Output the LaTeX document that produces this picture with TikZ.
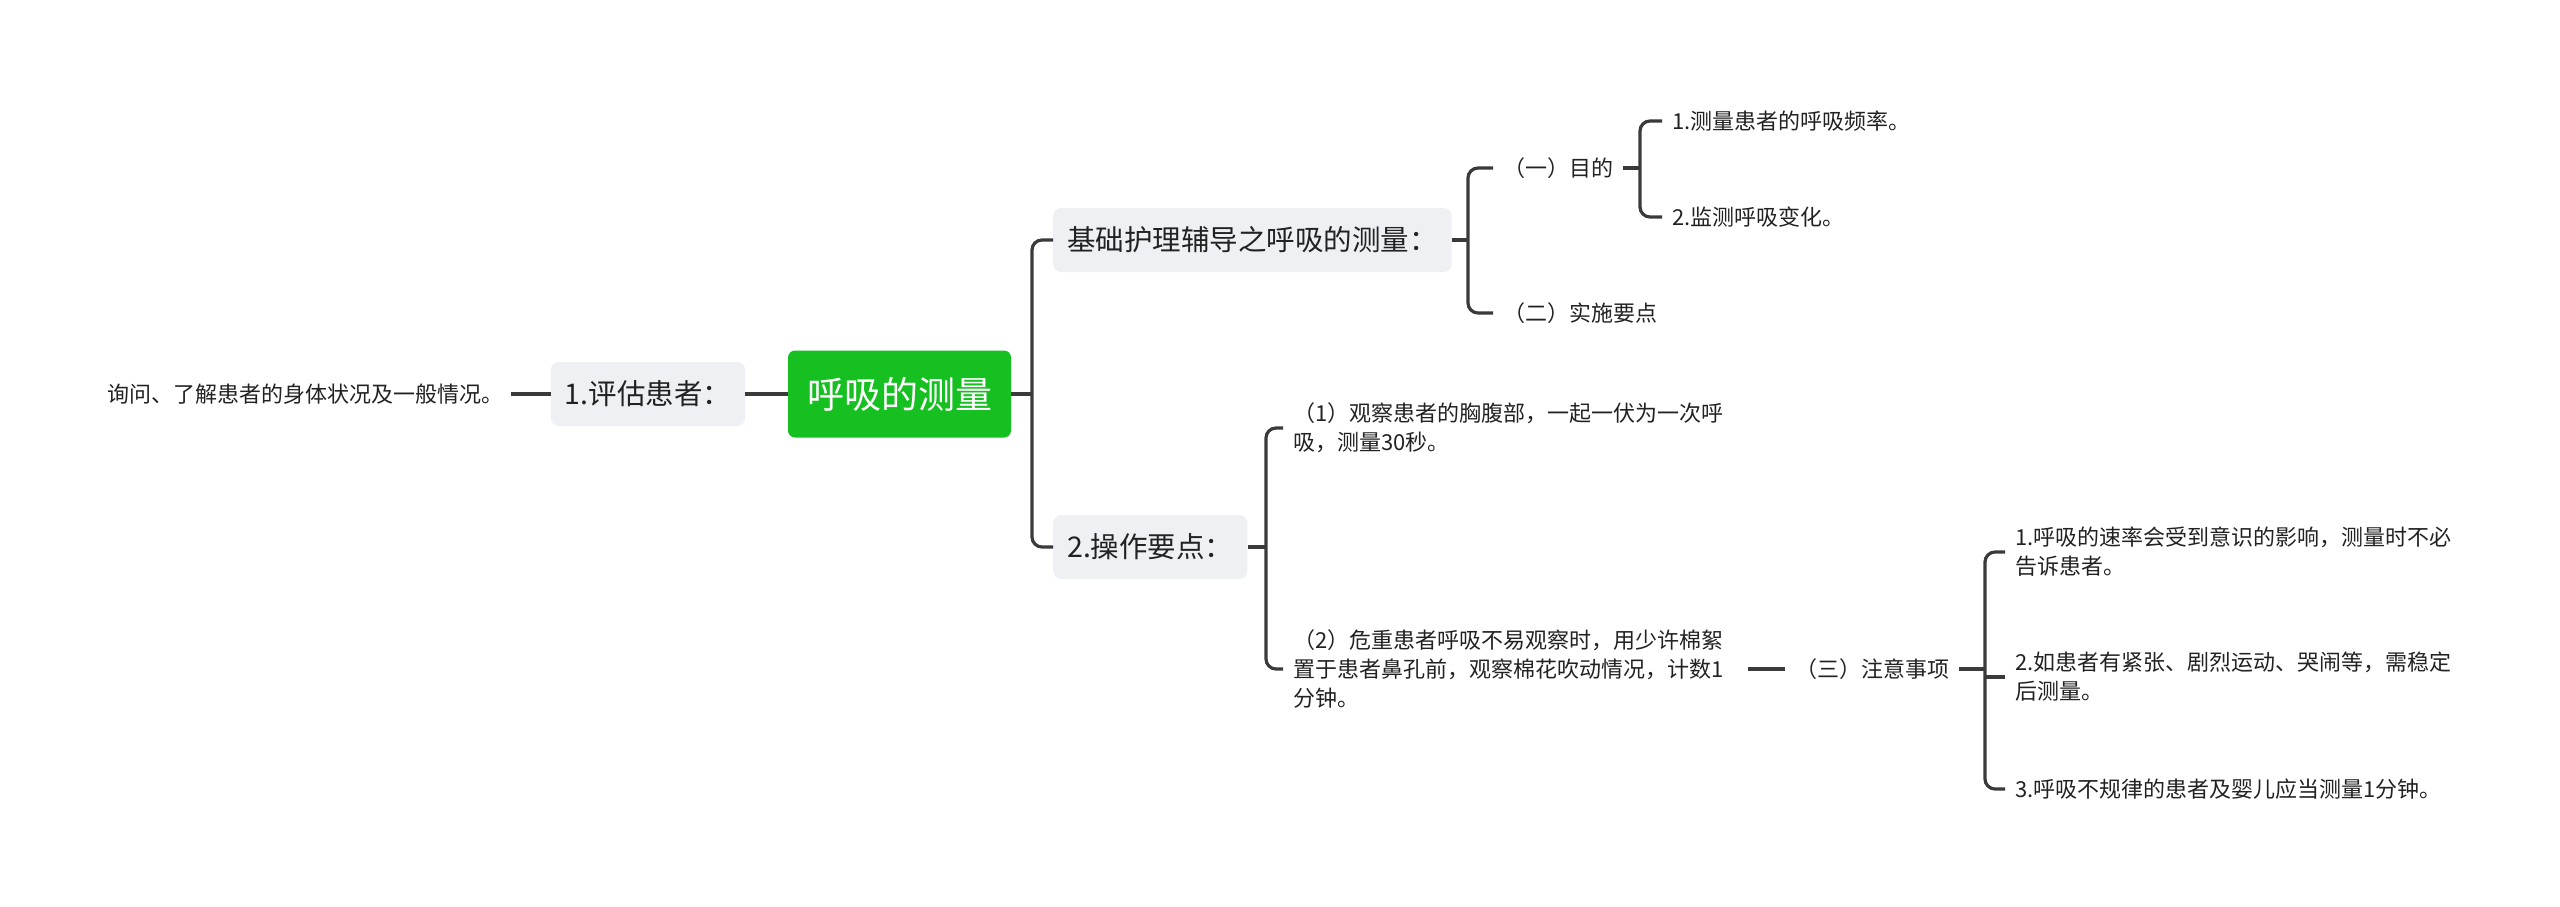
\documentclass[tikz,border=0pt]{standalone}
\usepackage{fontspec}
\setmainfont{Noto Sans CJK SC}
\definecolor{linec}{HTML}{3A3A3A}
\definecolor{txtc}{HTML}{222222}
\definecolor{boxc}{HTML}{EEF0F4}
\definecolor{rootc}{HTML}{15C020}
\begin{document}
\begin{tikzpicture}[x=1pt,y=-1pt,
  conn/.style={draw=linec, line width=3.2pt, rounded corners=10pt},
  leaf/.style={font=\fontsize{22}{29}\selectfont, text=txtc, align=left, inner xsep=10pt, inner ysep=0pt, anchor=west},
  topic/.style={fill=boxc, rounded corners=8pt, font=\fontsize{28.5}{34}\selectfont, text=txtc, inner xsep=14pt, minimum height=64pt},
  rootn/.style={fill=rootc, rounded corners=7pt, font=\fontsize{37}{44}\selectfont, text=white, inner xsep=19pt, minimum height=87pt}]
\useasboundingbox (0,0) rectangle (2560,907);
\node[rootn] (root) at (899.5,394) {呼吸的测量};
\node[topic] (n1) at (648,394) {1.评估患者：};
\node[leaf, anchor=east, inner xsep=7pt] (t0) at (511,394) {询问、了解患者的身体状况及一般情况。};
\node[topic, anchor=west] (A) at (1053,240) {基础护理辅导之呼吸的测量：};
\node[topic, anchor=west] (B) at (1053,547) {2.操作要点：};
\node[leaf] (A1) at (1493,168) {（一）目的};
\node[leaf] (A2) at (1493,313) {（二）实施要点};
\node[leaf] (A1a) at (1662,121) {1.测量患者的呼吸频率。};
\node[leaf] (A1b) at (1662,217) {2.监测呼吸变化。};
\node[leaf] (B1) at (1283,428) {（1）观察患者的胸腹部，一起一伏为一次呼\\吸，测量30秒。};
\node[leaf] (B2) at (1283,669) {（2）危重患者呼吸不易观察时，用少许棉絮\\置于患者鼻孔前，观察棉花吹动情况，计数1\\分钟。};
\node[leaf] (C) at (1785,669) {（三）注意事项};
\node[leaf] (C1) at (2005,552) {1.呼吸的速率会受到意识的影响，测量时不必\\告诉患者。};
\node[leaf] (C2) at (2005,677) {2.如患者有紧张、剧烈运动、哭闹等，需稳定\\后测量。};
\node[leaf] (C3) at (2005,789) {3.呼吸不规律的患者及婴儿应当测量1分钟。};
\coordinate (bR) at (1032,0);
\coordinate (bA) at (1468,0);
\coordinate (bA1) at (1640,0);
\coordinate (bB) at (1266,0);
\coordinate (bC) at (1985,0);
\draw[conn] (t0.east) -- (n1.west);
\draw[conn] (n1.east) -- (root.west);
\draw[conn] (root.east) -- (bR |- root.east);
\draw[conn] (A.west) -- (bR |- A.west) -- (bR |- B.west) -- (B.west);
\draw[conn] (A.east) -- (bA |- A.east);
\draw[conn] (A1.west) -- (bA |- A1.west) -- (bA |- A2.west) -- (A2.west);
\draw[conn] (A1.east) -- (bA1 |- A1.east);
\draw[conn] (A1a.west) -- (bA1 |- A1a.west) -- (bA1 |- A1b.west) -- (A1b.west);
\draw[conn] (B.east) -- (bB |- B.east);
\draw[conn] (B1.west) -- (bB |- B1.west) -- (bB |- B2.west) -- (B2.west);
\draw[conn] ([xshift=14pt]B2.east) -- (C.west);
\draw[conn] (C.east) -- (bC |- C.east);
\draw[conn] (C1.west) -- (bC |- C1.west) -- (bC |- C3.west) -- (C3.west);
\draw[conn] (C2.west) -- (bC |- C2.west);
\end{tikzpicture}
\end{document}
